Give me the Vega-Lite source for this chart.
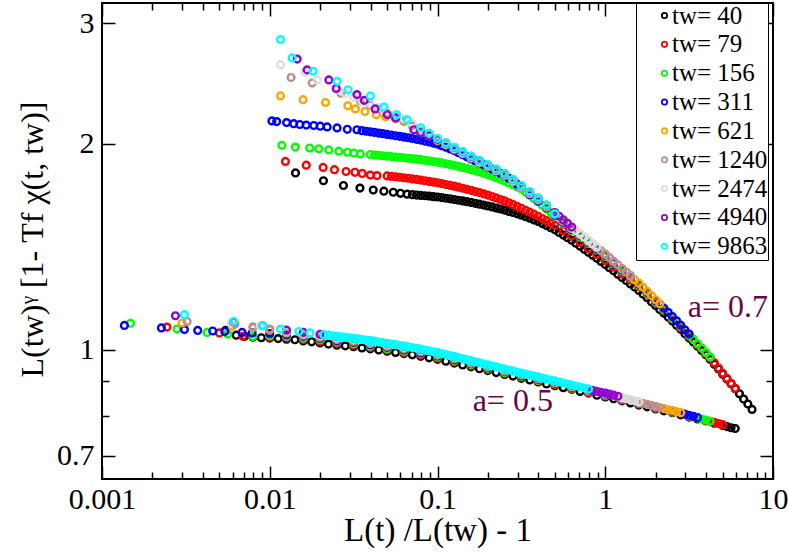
{
"$schema":"https://vega.github.io/schema/vega-lite/v6.json",
"width":671,"height":476,
"autosize":{"type":"none"},
"padding":{"left":102,"top":3,"right":16,"bottom":76},
"background":"white",
"config":{
"view":{"stroke":"black","strokeWidth":2},
"axis":{"domain":false,"grid":false,"tickColor":"black","tickWidth":1.5,"labelFont":"Liberation Serif","labelFontSize":30,"labelColor":"black","titleFont":"Liberation Serif","titleFontSize":33,"titleFontWeight":"normal","titleColor":"black","labelFlush":false,"labelOverlap":false,"labelBound":false}
},
"datasets":{
"notes":[{"x":3.1,"y":1.117,"label":"a= 0.7"},{"x":0.162,"y":0.8125,"label":"a= 0.5"}],
"pts":[
{"t":40,"x":0.00545,"y":1.067},{"t":40,"x":0.00631,"y":1.05},{"t":40,"x":0.007079,"y":1.046},{"t":40,"x":0.007943,"y":1.043},{"t":40,"x":0.008913,"y":1.041},{"t":40,"x":0.01,"y":1.04},{"t":40,"x":0.01122,"y":1.038},{"t":40,"x":0.01259,"y":1.036},{"t":40,"x":0.01413,"y":1.034},{"t":40,"x":0.01585,"y":1.03},{"t":40,"x":0.01778,"y":1.027},{"t":40,"x":0.01995,"y":1.023},{"t":40,"x":0.02239,"y":1.019},{"t":40,"x":0.02512,"y":1.015},{"t":40,"x":0.02818,"y":1.013},{"t":40,"x":0.03162,"y":1.01},{"t":40,"x":0.03548,"y":1.006},{"t":40,"x":0.03981,"y":1.003},{"t":40,"x":0.04467,"y":0.999},{"t":40,"x":0.05012,"y":0.995},{"t":40,"x":0.05623,"y":0.991},{"t":40,"x":0.0631,"y":0.987},{"t":40,"x":0.07079,"y":0.983},{"t":40,"x":0.07943,"y":0.978},{"t":40,"x":0.08913,"y":0.973},{"t":40,"x":0.1,"y":0.968},{"t":40,"x":0.1122,"y":0.962},{"t":40,"x":0.1259,"y":0.956},{"t":40,"x":0.1413,"y":0.95},{"t":40,"x":0.1585,"y":0.944},{"t":40,"x":0.1778,"y":0.938},{"t":40,"x":0.1995,"y":0.932},{"t":40,"x":0.2239,"y":0.926},{"t":40,"x":0.2512,"y":0.92},{"t":40,"x":0.2818,"y":0.915},{"t":40,"x":0.3162,"y":0.908},{"t":40,"x":0.3548,"y":0.903},{"t":40,"x":0.3981,"y":0.897},{"t":40,"x":0.4467,"y":0.891},{"t":40,"x":0.5012,"y":0.886},{"t":40,"x":0.5623,"y":0.88},{"t":40,"x":0.631,"y":0.875},{"t":40,"x":0.7079,"y":0.869},{"t":40,"x":0.7943,"y":0.864},{"t":40,"x":0.8913,"y":0.858},{"t":40,"x":1,"y":0.853},{"t":40,"x":1.122,"y":0.848},{"t":40,"x":1.259,"y":0.842},{"t":40,"x":1.413,"y":0.836},{"t":40,"x":1.585,"y":0.83},{"t":40,"x":1.778,"y":0.825},{"t":40,"x":1.995,"y":0.819},{"t":40,"x":2.239,"y":0.814},{"t":40,"x":2.512,"y":0.809},{"t":40,"x":2.818,"y":0.803},{"t":40,"x":3.162,"y":0.797},{"t":40,"x":3.548,"y":0.792},{"t":40,"x":3.981,"y":0.787},{"t":40,"x":4.467,"y":0.781},{"t":40,"x":5.012,"y":0.775},{"t":40,"x":5.309,"y":0.772},{"t":40,"x":5.623,"y":0.769},{"t":40,"x":5.957,"y":0.767},
{"t":40,"x":0.01424,"y":1.813},{"t":40,"x":0.0209,"y":1.766},{"t":40,"x":0.0275,"y":1.738},{"t":40,"x":0.0345,"y":1.723},{"t":40,"x":0.0414,"y":1.712},{"t":40,"x":0.0479,"y":1.705},{"t":40,"x":0.0545,"y":1.699},{"t":40,"x":0.0602,"y":1.693},{"t":40,"x":0.066,"y":1.688},
{"t":40,"x":0.07079,"y":1.685},{"t":40,"x":0.07499,"y":1.683},{"t":40,"x":0.07943,"y":1.681},{"t":40,"x":0.08414,"y":1.679},{"t":40,"x":0.08913,"y":1.677},{"t":40,"x":0.09441,"y":1.674},{"t":40,"x":0.1,"y":1.672},{"t":40,"x":0.1059,"y":1.669},{"t":40,"x":0.1122,"y":1.665},{"t":40,"x":0.1189,"y":1.662},{"t":40,"x":0.1259,"y":1.658},{"t":40,"x":0.1334,"y":1.654},{"t":40,"x":0.1413,"y":1.65},{"t":40,"x":0.1496,"y":1.646},{"t":40,"x":0.1585,"y":1.642},{"t":40,"x":0.1679,"y":1.637},{"t":40,"x":0.1778,"y":1.632},{"t":40,"x":0.1884,"y":1.627},{"t":40,"x":0.1995,"y":1.622},{"t":40,"x":0.2113,"y":1.617},{"t":40,"x":0.2239,"y":1.611},{"t":40,"x":0.2371,"y":1.606},{"t":40,"x":0.2512,"y":1.6},{"t":40,"x":0.2661,"y":1.593},{"t":40,"x":0.2818,"y":1.587},{"t":40,"x":0.2985,"y":1.58},{"t":40,"x":0.3162,"y":1.573},{"t":40,"x":0.335,"y":1.565},{"t":40,"x":0.3548,"y":1.557},{"t":40,"x":0.3758,"y":1.548},{"t":40,"x":0.3981,"y":1.54},{"t":40,"x":0.4217,"y":1.529},{"t":40,"x":0.4467,"y":1.519},{"t":40,"x":0.4732,"y":1.508},{"t":40,"x":0.5012,"y":1.497},{"t":40,"x":0.5309,"y":1.484},{"t":40,"x":0.5623,"y":1.471},{"t":40,"x":0.5957,"y":1.458},{"t":40,"x":0.631,"y":1.445},{"t":40,"x":0.6683,"y":1.431},{"t":40,"x":0.7079,"y":1.417},{"t":40,"x":0.7499,"y":1.402},{"t":40,"x":0.7943,"y":1.388},{"t":40,"x":0.8414,"y":1.374},{"t":40,"x":0.8913,"y":1.36},{"t":40,"x":0.9441,"y":1.346},{"t":40,"x":1,"y":1.332},{"t":40,"x":1.059,"y":1.318},{"t":40,"x":1.122,"y":1.304},{"t":40,"x":1.189,"y":1.289},{"t":40,"x":1.259,"y":1.275},{"t":40,"x":1.334,"y":1.262},{"t":40,"x":1.413,"y":1.248},{"t":40,"x":1.496,"y":1.235},{"t":40,"x":1.585,"y":1.221},{"t":40,"x":1.679,"y":1.206},{"t":40,"x":1.778,"y":1.191},{"t":40,"x":1.884,"y":1.175},{"t":40,"x":1.995,"y":1.16},{"t":40,"x":2.113,"y":1.145},{"t":40,"x":2.239,"y":1.131},{"t":40,"x":2.371,"y":1.116},{"t":40,"x":2.512,"y":1.101},{"t":40,"x":2.661,"y":1.086},{"t":40,"x":2.818,"y":1.071},{"t":40,"x":2.985,"y":1.055},{"t":40,"x":3.162,"y":1.04},{"t":40,"x":3.35,"y":1.026},{"t":40,"x":3.548,"y":1.012},{"t":40,"x":3.758,"y":0.997},{"t":40,"x":3.981,"y":0.983},{"t":40,"x":4.217,"y":0.968},{"t":40,"x":4.467,"y":0.952},{"t":40,"x":4.732,"y":0.937},{"t":40,"x":5.012,"y":0.921},{"t":40,"x":5.309,"y":0.906},{"t":40,"x":5.623,"y":0.892},{"t":40,"x":5.957,"y":0.877},{"t":40,"x":6.31,"y":0.862},{"t":40,"x":6.683,"y":0.847},{"t":40,"x":7.079,"y":0.833},{"t":40,"x":7.499,"y":0.818},
{"t":79,"x":0.00244,"y":1.079},{"t":79,"x":0.00501,"y":1.058},{"t":79,"x":0.0069,"y":1.046},{"t":79,"x":0.01,"y":1.044},{"t":79,"x":0.01259,"y":1.041},{"t":79,"x":0.01585,"y":1.035},{"t":79,"x":0.01995,"y":1.029},{"t":79,"x":0.02512,"y":1.021},{"t":79,"x":0.03162,"y":1.015},{"t":79,"x":0.03981,"y":1.008},{"t":79,"x":0.05012,"y":0.999},{"t":79,"x":0.0631,"y":0.991},{"t":79,"x":0.07943,"y":0.983},{"t":79,"x":0.1,"y":0.972},{"t":79,"x":0.1259,"y":0.96},{"t":79,"x":0.1585,"y":0.948},{"t":79,"x":0.1995,"y":0.936},{"t":79,"x":0.2512,"y":0.923},{"t":79,"x":0.3162,"y":0.912},{"t":79,"x":0.3981,"y":0.9},{"t":79,"x":0.5012,"y":0.889},{"t":79,"x":0.631,"y":0.877},{"t":79,"x":0.7943,"y":0.866},{"t":79,"x":1,"y":0.856},{"t":79,"x":1.259,"y":0.844},{"t":79,"x":1.585,"y":0.833},{"t":79,"x":1.995,"y":0.821},{"t":79,"x":2.512,"y":0.81},{"t":79,"x":3.162,"y":0.798},{"t":79,"x":3.981,"y":0.788},{"t":79,"x":4.217,"y":0.786},{"t":79,"x":4.467,"y":0.783},{"t":79,"x":4.732,"y":0.78},{"t":79,"x":5.012,"y":0.777},
{"t":79,"x":0.0124,"y":1.885},{"t":79,"x":0.0165,"y":1.861},{"t":79,"x":0.0208,"y":1.847},{"t":79,"x":0.0243,"y":1.833},{"t":79,"x":0.0285,"y":1.822},{"t":79,"x":0.0322,"y":1.817},{"t":79,"x":0.0356,"y":1.81},{"t":79,"x":0.0398,"y":1.8},{"t":79,"x":0.0436,"y":1.797},
{"t":79,"x":0.05012,"y":1.795},{"t":79,"x":0.05309,"y":1.792},{"t":79,"x":0.05623,"y":1.79},{"t":79,"x":0.05957,"y":1.787},{"t":79,"x":0.0631,"y":1.784},{"t":79,"x":0.06683,"y":1.781},{"t":79,"x":0.07079,"y":1.777},{"t":79,"x":0.07499,"y":1.774},{"t":79,"x":0.07943,"y":1.77},{"t":79,"x":0.08414,"y":1.766},{"t":79,"x":0.08913,"y":1.762},{"t":79,"x":0.09441,"y":1.758},{"t":79,"x":0.1,"y":1.754},{"t":79,"x":0.1059,"y":1.749},{"t":79,"x":0.1122,"y":1.744},{"t":79,"x":0.1189,"y":1.739},{"t":79,"x":0.1259,"y":1.734},{"t":79,"x":0.1334,"y":1.728},{"t":79,"x":0.1413,"y":1.722},{"t":79,"x":0.1496,"y":1.716},{"t":79,"x":0.1585,"y":1.71},{"t":79,"x":0.1679,"y":1.703},{"t":79,"x":0.1778,"y":1.697},{"t":79,"x":0.1884,"y":1.69},{"t":79,"x":0.1995,"y":1.683},{"t":79,"x":0.2113,"y":1.675},{"t":79,"x":0.2239,"y":1.667},{"t":79,"x":0.2371,"y":1.658},{"t":79,"x":0.2512,"y":1.65},{"t":79,"x":0.2661,"y":1.64},{"t":79,"x":0.2818,"y":1.63},{"t":79,"x":0.2985,"y":1.62},{"t":79,"x":0.3162,"y":1.61},{"t":79,"x":0.335,"y":1.599},{"t":79,"x":0.3548,"y":1.589},{"t":79,"x":0.3758,"y":1.578},{"t":79,"x":0.3981,"y":1.567},{"t":79,"x":0.4217,"y":1.555},{"t":79,"x":0.4467,"y":1.544},{"t":79,"x":0.4732,"y":1.532},{"t":79,"x":0.5012,"y":1.52},{"t":79,"x":0.5623,"y":1.493},{"t":79,"x":0.631,"y":1.465},{"t":79,"x":0.7079,"y":1.435},{"t":79,"x":0.7943,"y":1.405},{"t":79,"x":0.8913,"y":1.378},{"t":79,"x":1,"y":1.35},{"t":79,"x":1.122,"y":1.32},{"t":79,"x":1.259,"y":1.291},{"t":79,"x":1.413,"y":1.264},{"t":79,"x":1.585,"y":1.236},{"t":79,"x":1.778,"y":1.205},{"t":79,"x":1.995,"y":1.171},{"t":79,"x":2.239,"y":1.14},{"t":79,"x":2.512,"y":1.108},{"t":79,"x":2.818,"y":1.076},{"t":79,"x":3.162,"y":1.045},{"t":79,"x":3.548,"y":1.016},{"t":79,"x":3.981,"y":0.986},{"t":79,"x":4.217,"y":0.973},{"t":79,"x":4.467,"y":0.957},{"t":79,"x":4.732,"y":0.94},{"t":79,"x":5.012,"y":0.924},{"t":79,"x":5.309,"y":0.908},{"t":79,"x":5.623,"y":0.893},{"t":79,"x":5.957,"y":0.878},
{"t":156,"x":0.00148,"y":1.093},{"t":156,"x":0.0028,"y":1.072},{"t":156,"x":0.00423,"y":1.06},{"t":156,"x":0.00561,"y":1.054},{"t":156,"x":0.007943,"y":1.045},{"t":156,"x":0.01,"y":1.048},{"t":156,"x":0.01259,"y":1.046},{"t":156,"x":0.01585,"y":1.04},{"t":156,"x":0.01995,"y":1.034},{"t":156,"x":0.02512,"y":1.027},{"t":156,"x":0.03162,"y":1.02},{"t":156,"x":0.03981,"y":1.012},{"t":156,"x":0.05012,"y":1.003},{"t":156,"x":0.0631,"y":0.995},{"t":156,"x":0.07943,"y":0.987},{"t":156,"x":0.1,"y":0.976},{"t":156,"x":0.1259,"y":0.964},{"t":156,"x":0.1585,"y":0.951},{"t":156,"x":0.1995,"y":0.939},{"t":156,"x":0.2512,"y":0.926},{"t":156,"x":0.3162,"y":0.914},{"t":156,"x":0.3981,"y":0.902},{"t":156,"x":0.5012,"y":0.891},{"t":156,"x":0.631,"y":0.879},{"t":156,"x":0.7943,"y":0.868},{"t":156,"x":1,"y":0.857},{"t":156,"x":1.259,"y":0.846},{"t":156,"x":1.585,"y":0.834},{"t":156,"x":1.995,"y":0.823},{"t":156,"x":2.512,"y":0.811},{"t":156,"x":3.162,"y":0.8},{"t":156,"x":3.548,"y":0.795},{"t":156,"x":3.758,"y":0.792},{"t":156,"x":3.981,"y":0.789},{"t":156,"x":4.217,"y":0.786},
{"t":156,"x":0.0118,"y":1.99},{"t":156,"x":0.0142,"y":1.978},{"t":156,"x":0.0173,"y":1.972},{"t":156,"x":0.0196,"y":1.967},{"t":156,"x":0.0225,"y":1.959},{"t":156,"x":0.0258,"y":1.951},{"t":156,"x":0.029,"y":1.944},{"t":156,"x":0.0317,"y":1.939},{"t":156,"x":0.0347,"y":1.933},
{"t":156,"x":0.03981,"y":1.929},{"t":156,"x":0.04217,"y":1.926},{"t":156,"x":0.04467,"y":1.924},{"t":156,"x":0.04732,"y":1.921},{"t":156,"x":0.05012,"y":1.918},{"t":156,"x":0.05309,"y":1.916},{"t":156,"x":0.05623,"y":1.913},{"t":156,"x":0.05957,"y":1.911},{"t":156,"x":0.0631,"y":1.908},{"t":156,"x":0.06683,"y":1.905},{"t":156,"x":0.07079,"y":1.902},{"t":156,"x":0.07499,"y":1.899},{"t":156,"x":0.07943,"y":1.896},{"t":156,"x":0.08414,"y":1.892},{"t":156,"x":0.08913,"y":1.888},{"t":156,"x":0.09441,"y":1.884},{"t":156,"x":0.1,"y":1.88},{"t":156,"x":0.1059,"y":1.875},{"t":156,"x":0.1122,"y":1.87},{"t":156,"x":0.1189,"y":1.865},{"t":156,"x":0.1259,"y":1.86},{"t":156,"x":0.1334,"y":1.854},{"t":156,"x":0.1413,"y":1.847},{"t":156,"x":0.1496,"y":1.841},{"t":156,"x":0.1585,"y":1.834},{"t":156,"x":0.1679,"y":1.826},{"t":156,"x":0.1778,"y":1.819},{"t":156,"x":0.1884,"y":1.811},{"t":156,"x":0.1995,"y":1.803},{"t":156,"x":0.2113,"y":1.794},{"t":156,"x":0.2239,"y":1.784},{"t":156,"x":0.2371,"y":1.775},{"t":156,"x":0.2512,"y":1.765},{"t":156,"x":0.2661,"y":1.753},{"t":156,"x":0.2818,"y":1.742},{"t":156,"x":0.2985,"y":1.73},{"t":156,"x":0.3162,"y":1.718},{"t":156,"x":0.335,"y":1.7},{"t":156,"x":0.3548,"y":1.682},{"t":156,"x":0.3758,"y":1.663},{"t":156,"x":0.3981,"y":1.645},{"t":156,"x":0.4217,"y":1.626},{"t":156,"x":0.4467,"y":1.606},{"t":156,"x":0.4732,"y":1.587},{"t":156,"x":0.5012,"y":1.568},{"t":156,"x":0.5623,"y":1.53},{"t":156,"x":0.631,"y":1.494},{"t":156,"x":0.7079,"y":1.461},{"t":156,"x":0.7943,"y":1.43},{"t":156,"x":0.8913,"y":1.399},{"t":156,"x":1,"y":1.368},{"t":156,"x":1.122,"y":1.336},{"t":156,"x":1.259,"y":1.303},{"t":156,"x":1.413,"y":1.273},{"t":156,"x":1.585,"y":1.242},{"t":156,"x":1.778,"y":1.209},{"t":156,"x":1.995,"y":1.175},{"t":156,"x":2.239,"y":1.144},{"t":156,"x":2.512,"y":1.112},{"t":156,"x":2.818,"y":1.082},{"t":156,"x":3.162,"y":1.05},{"t":156,"x":3.35,"y":1.036},{"t":156,"x":3.548,"y":1.021},{"t":156,"x":3.758,"y":1.006},{"t":156,"x":3.981,"y":0.991},{"t":156,"x":4.217,"y":0.976},
{"t":311,"x":0.00136,"y":1.085},{"t":311,"x":0.00226,"y":1.076},{"t":311,"x":0.0031,"y":1.07},{"t":311,"x":0.00372,"y":1.067},{"t":311,"x":0.00457,"y":1.065},{"t":311,"x":0.0054,"y":1.063},{"t":311,"x":0.00684,"y":1.06},{"t":311,"x":0.00785,"y":1.058},{"t":311,"x":0.01,"y":1.056},{"t":311,"x":0.01259,"y":1.052},{"t":311,"x":0.01585,"y":1.046},{"t":311,"x":0.01995,"y":1.039},{"t":311,"x":0.02512,"y":1.031},{"t":311,"x":0.03162,"y":1.025},{"t":311,"x":0.03981,"y":1.017},{"t":311,"x":0.05012,"y":1.008},{"t":311,"x":0.0631,"y":0.999},{"t":311,"x":0.07943,"y":0.99},{"t":311,"x":0.1,"y":0.979},{"t":311,"x":0.1259,"y":0.967},{"t":311,"x":0.1585,"y":0.954},{"t":311,"x":0.1995,"y":0.941},{"t":311,"x":0.2512,"y":0.929},{"t":311,"x":0.3162,"y":0.916},{"t":311,"x":0.3981,"y":0.905},{"t":311,"x":0.5012,"y":0.893},{"t":311,"x":0.631,"y":0.881},{"t":311,"x":0.7943,"y":0.87},{"t":311,"x":1,"y":0.859},{"t":311,"x":1.259,"y":0.847},{"t":311,"x":1.585,"y":0.836},{"t":311,"x":1.995,"y":0.824},{"t":311,"x":2.512,"y":0.813},{"t":311,"x":2.818,"y":0.807},{"t":311,"x":2.985,"y":0.805},{"t":311,"x":3.162,"y":0.802},{"t":311,"x":3.35,"y":0.799},{"t":311,"x":3.548,"y":0.796},
{"t":311,"x":0.0103,"y":2.16},{"t":311,"x":0.011,"y":2.155},{"t":311,"x":0.0126,"y":2.148},{"t":311,"x":0.0139,"y":2.14},{"t":311,"x":0.0151,"y":2.134},{"t":311,"x":0.0165,"y":2.13},{"t":311,"x":0.0183,"y":2.127},{"t":311,"x":0.02,"y":2.122},{"t":311,"x":0.022,"y":2.117},{"t":311,"x":0.0252,"y":2.11},{"t":311,"x":0.029,"y":2.1},{"t":311,"x":0.0331,"y":2.097},
{"t":311,"x":0.03548,"y":2.09},{"t":311,"x":0.03758,"y":2.086},{"t":311,"x":0.03981,"y":2.082},{"t":311,"x":0.04217,"y":2.078},{"t":311,"x":0.04467,"y":2.073},{"t":311,"x":0.04732,"y":2.069},{"t":311,"x":0.05012,"y":2.064},{"t":311,"x":0.05309,"y":2.06},{"t":311,"x":0.05623,"y":2.055},{"t":311,"x":0.05957,"y":2.051},{"t":311,"x":0.0631,"y":2.046},{"t":311,"x":0.06683,"y":2.041},{"t":311,"x":0.07079,"y":2.036},{"t":311,"x":0.07499,"y":2.03},{"t":311,"x":0.07943,"y":2.025},{"t":311,"x":0.08414,"y":2.018},{"t":311,"x":0.08913,"y":2.012},{"t":311,"x":0.09441,"y":2.005},{"t":311,"x":0.1,"y":1.998},{"t":311,"x":0.1059,"y":1.987},{"t":311,"x":0.1122,"y":1.977},{"t":311,"x":0.1189,"y":1.966},{"t":311,"x":0.1259,"y":1.955},{"t":311,"x":0.1334,"y":1.941},{"t":311,"x":0.1413,"y":1.928},{"t":311,"x":0.1496,"y":1.914},{"t":311,"x":0.1585,"y":1.9},{"t":311,"x":0.1679,"y":1.888},{"t":311,"x":0.1778,"y":1.875},{"t":311,"x":0.1884,"y":1.863},{"t":311,"x":0.1995,"y":1.85},{"t":311,"x":0.2113,"y":1.837},{"t":311,"x":0.2239,"y":1.824},{"t":311,"x":0.2371,"y":1.811},{"t":311,"x":0.2512,"y":1.798},{"t":311,"x":0.2661,"y":1.781},{"t":311,"x":0.2818,"y":1.763},{"t":311,"x":0.2985,"y":1.746},{"t":311,"x":0.3162,"y":1.728},{"t":311,"x":0.3548,"y":1.685},{"t":311,"x":0.3981,"y":1.65},{"t":311,"x":0.4467,"y":1.612},{"t":311,"x":0.5012,"y":1.573},{"t":311,"x":0.5623,"y":1.536},{"t":311,"x":0.631,"y":1.499},{"t":311,"x":0.7079,"y":1.467},{"t":311,"x":0.7943,"y":1.435},{"t":311,"x":0.8913,"y":1.404},{"t":311,"x":1,"y":1.373},{"t":311,"x":1.122,"y":1.34},{"t":311,"x":1.259,"y":1.308},{"t":311,"x":1.413,"y":1.277},{"t":311,"x":1.585,"y":1.246},{"t":311,"x":1.778,"y":1.213},{"t":311,"x":1.995,"y":1.179},{"t":311,"x":2.113,"y":1.166},{"t":311,"x":2.239,"y":1.15},{"t":311,"x":2.371,"y":1.134},{"t":311,"x":2.512,"y":1.118},{"t":311,"x":2.661,"y":1.102},{"t":311,"x":2.818,"y":1.086},{"t":311,"x":2.985,"y":1.069},{"t":311,"x":3.162,"y":1.054},
{"t":621,"x":0.003,"y":1.094},{"t":621,"x":0.00597,"y":1.082},{"t":621,"x":0.007943,"y":1.077},{"t":621,"x":0.01,"y":1.069},{"t":621,"x":0.01259,"y":1.058},{"t":621,"x":0.01585,"y":1.05},{"t":621,"x":0.01995,"y":1.043},{"t":621,"x":0.02512,"y":1.035},{"t":621,"x":0.03162,"y":1.029},{"t":621,"x":0.03981,"y":1.021},{"t":621,"x":0.05012,"y":1.012},{"t":621,"x":0.0631,"y":1.003},{"t":621,"x":0.07943,"y":0.994},{"t":621,"x":0.1,"y":0.982},{"t":621,"x":0.1259,"y":0.97},{"t":621,"x":0.1585,"y":0.956},{"t":621,"x":0.1995,"y":0.944},{"t":621,"x":0.2512,"y":0.931},{"t":621,"x":0.3162,"y":0.919},{"t":621,"x":0.3981,"y":0.907},{"t":621,"x":0.5012,"y":0.895},{"t":621,"x":0.631,"y":0.883},{"t":621,"x":0.7943,"y":0.872},{"t":621,"x":1,"y":0.861},{"t":621,"x":1.259,"y":0.849},{"t":621,"x":1.585,"y":0.837},{"t":621,"x":1.995,"y":0.825},{"t":621,"x":2.239,"y":0.82},{"t":621,"x":2.371,"y":0.817},{"t":621,"x":2.512,"y":0.815},{"t":621,"x":2.661,"y":0.812},{"t":621,"x":2.818,"y":0.809},
{"t":621,"x":0.0116,"y":2.35},{"t":621,"x":0.0158,"y":2.32},{"t":621,"x":0.0215,"y":2.298},{"t":621,"x":0.0292,"y":2.274},{"t":621,"x":0.0324,"y":2.249},{"t":621,"x":0.037,"y":2.23},{"t":621,"x":0.0432,"y":2.206},{"t":621,"x":0.049,"y":2.19},{"t":621,"x":0.0563,"y":2.175},
{"t":621,"x":0.0631,"y":2.155},{"t":621,"x":0.07079,"y":2.125},{"t":621,"x":0.07943,"y":2.09},{"t":621,"x":0.08913,"y":2.055},{"t":621,"x":0.1,"y":2.022},{"t":621,"x":0.1122,"y":1.994},{"t":621,"x":0.1259,"y":1.964},{"t":621,"x":0.1413,"y":1.935},{"t":621,"x":0.1585,"y":1.906},{"t":621,"x":0.1778,"y":1.878},{"t":621,"x":0.1995,"y":1.852},{"t":621,"x":0.2239,"y":1.825},{"t":621,"x":0.2512,"y":1.799},{"t":621,"x":0.2818,"y":1.762},{"t":621,"x":0.3162,"y":1.726},{"t":621,"x":0.3548,"y":1.691},{"t":621,"x":0.3981,"y":1.656},{"t":621,"x":0.4467,"y":1.617},{"t":621,"x":0.5012,"y":1.578},{"t":621,"x":0.5623,"y":1.541},{"t":621,"x":0.631,"y":1.504},{"t":621,"x":0.7079,"y":1.472},{"t":621,"x":0.7943,"y":1.439},{"t":621,"x":0.8913,"y":1.409},{"t":621,"x":1,"y":1.378},{"t":621,"x":1.122,"y":1.345},{"t":621,"x":1.259,"y":1.312},{"t":621,"x":1.413,"y":1.281},{"t":621,"x":1.496,"y":1.266},{"t":621,"x":1.585,"y":1.251},{"t":621,"x":1.679,"y":1.234},{"t":621,"x":1.778,"y":1.217},{"t":621,"x":1.884,"y":1.2},{"t":621,"x":1.995,"y":1.183},{"t":621,"x":2.113,"y":1.167},
{"t":1240,"x":0.00322,"y":1.1},{"t":1240,"x":0.0062,"y":1.09},{"t":1240,"x":0.007943,"y":1.08},{"t":1240,"x":0.01,"y":1.072},{"t":1240,"x":0.01259,"y":1.061},{"t":1240,"x":0.01585,"y":1.053},{"t":1240,"x":0.01995,"y":1.046},{"t":1240,"x":0.02512,"y":1.038},{"t":1240,"x":0.03162,"y":1.032},{"t":1240,"x":0.03981,"y":1.024},{"t":1240,"x":0.05012,"y":1.015},{"t":1240,"x":0.0631,"y":1.006},{"t":1240,"x":0.07943,"y":0.996},{"t":1240,"x":0.1,"y":0.985},{"t":1240,"x":0.1259,"y":0.972},{"t":1240,"x":0.1585,"y":0.958},{"t":1240,"x":0.1995,"y":0.945},{"t":1240,"x":0.2512,"y":0.933},{"t":1240,"x":0.3162,"y":0.92},{"t":1240,"x":0.3981,"y":0.908},{"t":1240,"x":0.5012,"y":0.896},{"t":1240,"x":0.631,"y":0.885},{"t":1240,"x":0.7943,"y":0.873},{"t":1240,"x":1,"y":0.862},{"t":1240,"x":1.259,"y":0.85},{"t":1240,"x":1.413,"y":0.844},{"t":1240,"x":1.585,"y":0.838},{"t":1240,"x":1.679,"y":0.835},{"t":1240,"x":1.778,"y":0.832},{"t":1240,"x":1.884,"y":0.829},{"t":1240,"x":1.995,"y":0.826},{"t":1240,"x":2.113,"y":0.823},
{"t":1240,"x":0.0134,"y":2.5},{"t":1240,"x":0.0179,"y":2.455},{"t":1240,"x":0.0265,"y":2.37},{"t":1240,"x":0.0347,"y":2.31},
{"t":1240,"x":0.03981,"y":2.28},{"t":1240,"x":0.04467,"y":2.25},{"t":1240,"x":0.05012,"y":2.22},{"t":1240,"x":0.05623,"y":2.19},{"t":1240,"x":0.0631,"y":2.16},{"t":1240,"x":0.07079,"y":2.125},{"t":1240,"x":0.07943,"y":2.09},{"t":1240,"x":0.08913,"y":2.058},{"t":1240,"x":0.1,"y":2.025},{"t":1240,"x":0.1122,"y":1.997},{"t":1240,"x":0.1259,"y":1.967},{"t":1240,"x":0.1413,"y":1.938},{"t":1240,"x":0.1585,"y":1.909},{"t":1240,"x":0.1778,"y":1.882},{"t":1240,"x":0.1995,"y":1.855},{"t":1240,"x":0.2239,"y":1.828},{"t":1240,"x":0.2512,"y":1.802},{"t":1240,"x":0.2818,"y":1.765},{"t":1240,"x":0.3162,"y":1.729},{"t":1240,"x":0.3548,"y":1.694},{"t":1240,"x":0.3981,"y":1.659},{"t":1240,"x":0.4467,"y":1.62},{"t":1240,"x":0.5012,"y":1.581},{"t":1240,"x":0.5623,"y":1.543},{"t":1240,"x":0.631,"y":1.506},{"t":1240,"x":0.7079,"y":1.474},{"t":1240,"x":0.7943,"y":1.442},{"t":1240,"x":0.8414,"y":1.426},{"t":1240,"x":0.8913,"y":1.411},{"t":1240,"x":0.9441,"y":1.395},{"t":1240,"x":1,"y":1.38},{"t":1240,"x":1.059,"y":1.364},{"t":1240,"x":1.122,"y":1.347},{"t":1240,"x":1.189,"y":1.331},{"t":1240,"x":1.259,"y":1.314},{"t":1240,"x":1.334,"y":1.299},{"t":1240,"x":1.413,"y":1.284},
{"t":2474,"x":0.0059,"y":1.094},{"t":2474,"x":0.0088,"y":1.083},{"t":2474,"x":0.01259,"y":1.064},{"t":2474,"x":0.01585,"y":1.056},{"t":2474,"x":0.01995,"y":1.049},{"t":2474,"x":0.02512,"y":1.041},{"t":2474,"x":0.03162,"y":1.035},{"t":2474,"x":0.03981,"y":1.027},{"t":2474,"x":0.05012,"y":1.017},{"t":2474,"x":0.0631,"y":1.008},{"t":2474,"x":0.07943,"y":0.998},{"t":2474,"x":0.1,"y":0.987},{"t":2474,"x":0.1259,"y":0.974},{"t":2474,"x":0.1585,"y":0.96},{"t":2474,"x":0.1995,"y":0.947},{"t":2474,"x":0.2512,"y":0.934},{"t":2474,"x":0.3162,"y":0.922},{"t":2474,"x":0.3981,"y":0.91},{"t":2474,"x":0.5012,"y":0.898},{"t":2474,"x":0.631,"y":0.886},{"t":2474,"x":0.7943,"y":0.874},{"t":2474,"x":1,"y":0.863},{"t":2474,"x":1.122,"y":0.857},{"t":2474,"x":1.189,"y":0.854},{"t":2474,"x":1.259,"y":0.851},{"t":2474,"x":1.334,"y":0.848},{"t":2474,"x":1.413,"y":0.845},{"t":2474,"x":1.496,"y":0.842},{"t":2474,"x":1.585,"y":0.839},
{"t":2474,"x":0.0116,"y":2.61},{"t":2474,"x":0.0162,"y":2.545},{"t":2474,"x":0.0192,"y":2.48},{"t":2474,"x":0.0252,"y":2.4},
{"t":2474,"x":0.02818,"y":2.37},{"t":2474,"x":0.03162,"y":2.34},{"t":2474,"x":0.03548,"y":2.31},{"t":2474,"x":0.03981,"y":2.29},{"t":2474,"x":0.04467,"y":2.26},{"t":2474,"x":0.05012,"y":2.235},{"t":2474,"x":0.05623,"y":2.205},{"t":2474,"x":0.0631,"y":2.175},{"t":2474,"x":0.07079,"y":2.14},{"t":2474,"x":0.07943,"y":2.1},{"t":2474,"x":0.08913,"y":2.066},{"t":2474,"x":0.1,"y":2.03},{"t":2474,"x":0.1122,"y":2.0},{"t":2474,"x":0.1259,"y":1.97},{"t":2474,"x":0.1413,"y":1.941},{"t":2474,"x":0.1585,"y":1.913},{"t":2474,"x":0.1778,"y":1.885},{"t":2474,"x":0.1995,"y":1.858},{"t":2474,"x":0.2239,"y":1.831},{"t":2474,"x":0.2512,"y":1.805},{"t":2474,"x":0.2818,"y":1.768},{"t":2474,"x":0.3162,"y":1.732},{"t":2474,"x":0.3548,"y":1.696},{"t":2474,"x":0.3981,"y":1.661},{"t":2474,"x":0.4467,"y":1.623},{"t":2474,"x":0.5012,"y":1.584},{"t":2474,"x":0.5623,"y":1.546},{"t":2474,"x":0.631,"y":1.509},{"t":2474,"x":0.6683,"y":1.493},{"t":2474,"x":0.7079,"y":1.477},{"t":2474,"x":0.7499,"y":1.46},{"t":2474,"x":0.7943,"y":1.444},{"t":2474,"x":0.8414,"y":1.428},{"t":2474,"x":0.8913,"y":1.413},
{"t":4940,"x":0.00274,"y":1.121},{"t":4940,"x":0.0061,"y":1.098},{"t":4940,"x":0.0091,"y":1.084},{"t":4940,"x":0.01259,"y":1.068},{"t":4940,"x":0.01585,"y":1.06},{"t":4940,"x":0.01995,"y":1.053},{"t":4940,"x":0.02512,"y":1.045},{"t":4940,"x":0.03162,"y":1.038},{"t":4940,"x":0.03981,"y":1.03},{"t":4940,"x":0.05012,"y":1.02},{"t":4940,"x":0.0631,"y":1.011},{"t":4940,"x":0.07943,"y":1.001},{"t":4940,"x":0.1,"y":0.989},{"t":4940,"x":0.1259,"y":0.976},{"t":4940,"x":0.1585,"y":0.962},{"t":4940,"x":0.1995,"y":0.949},{"t":4940,"x":0.2512,"y":0.936},{"t":4940,"x":0.3162,"y":0.923},{"t":4940,"x":0.3981,"y":0.911},{"t":4940,"x":0.5012,"y":0.899},{"t":4940,"x":0.631,"y":0.887},{"t":4940,"x":0.7943,"y":0.875},{"t":4940,"x":0.8414,"y":0.872},{"t":4940,"x":0.8913,"y":0.869},{"t":4940,"x":0.9441,"y":0.866},{"t":4940,"x":1,"y":0.864},{"t":4940,"x":1.059,"y":0.861},{"t":4940,"x":1.122,"y":0.858},{"t":4940,"x":1.189,"y":0.855},
{"t":4940,"x":0.01457,"y":2.66},{"t":4940,"x":0.0167,"y":2.565},{"t":4940,"x":0.0225,"y":2.48},{"t":4940,"x":0.0249,"y":2.41},{"t":4940,"x":0.0331,"y":2.36},{"t":4940,"x":0.0366,"y":2.315},{"t":4940,"x":0.0425,"y":2.249},{"t":4940,"x":0.0502,"y":2.206},{"t":4940,"x":0.0563,"y":2.181},{"t":4940,"x":0.0723,"y":2.097},
{"t":4940,"x":0.07943,"y":2.075},{"t":4940,"x":0.08913,"y":2.055},{"t":4940,"x":0.1,"y":2.03},{"t":4940,"x":0.1122,"y":2.005},{"t":4940,"x":0.1259,"y":1.975},{"t":4940,"x":0.1413,"y":1.946},{"t":4940,"x":0.1585,"y":1.917},{"t":4940,"x":0.1778,"y":1.889},{"t":4940,"x":0.1995,"y":1.862},{"t":4940,"x":0.2239,"y":1.835},{"t":4940,"x":0.2512,"y":1.809},{"t":4940,"x":0.2818,"y":1.772},{"t":4940,"x":0.3162,"y":1.736},{"t":4940,"x":0.3548,"y":1.7},{"t":4940,"x":0.3981,"y":1.665},{"t":4940,"x":0.4467,"y":1.626},{"t":4940,"x":0.5012,"y":1.587},{"t":4940,"x":0.5309,"y":1.567},{"t":4940,"x":0.5623,"y":1.548},{"t":4940,"x":0.5957,"y":1.53},{"t":4940,"x":0.631,"y":1.511},
{"t":9863,"x":0.0031,"y":1.125},{"t":9863,"x":0.0061,"y":1.1},{"t":9863,"x":0.0091,"y":1.084},{"t":9863,"x":0.0116,"y":1.072},{"t":9863,"x":0.0149,"y":1.063},{"t":9863,"x":0.0174,"y":1.058},{"t":9863,"x":0.021,"y":1.052},
{"t":9863,"x":0.02239,"y":1.05},{"t":9863,"x":0.02371,"y":1.048},{"t":9863,"x":0.02512,"y":1.046},{"t":9863,"x":0.02661,"y":1.044},{"t":9863,"x":0.02818,"y":1.043},{"t":9863,"x":0.02985,"y":1.041},{"t":9863,"x":0.03162,"y":1.039},{"t":9863,"x":0.0335,"y":1.037},{"t":9863,"x":0.03548,"y":1.035},{"t":9863,"x":0.03758,"y":1.033},{"t":9863,"x":0.03981,"y":1.031},{"t":9863,"x":0.04217,"y":1.029},{"t":9863,"x":0.04467,"y":1.026},{"t":9863,"x":0.04732,"y":1.024},{"t":9863,"x":0.05012,"y":1.021},{"t":9863,"x":0.05309,"y":1.019},{"t":9863,"x":0.05623,"y":1.017},{"t":9863,"x":0.05957,"y":1.014},{"t":9863,"x":0.0631,"y":1.012},{"t":9863,"x":0.06683,"y":1.01},{"t":9863,"x":0.07079,"y":1.007},{"t":9863,"x":0.07499,"y":1.005},{"t":9863,"x":0.07943,"y":1.002},{"t":9863,"x":0.08414,"y":0.999},{"t":9863,"x":0.08913,"y":0.996},{"t":9863,"x":0.09441,"y":0.993},{"t":9863,"x":0.1,"y":0.99},{"t":9863,"x":0.1059,"y":0.987},{"t":9863,"x":0.1122,"y":0.984},{"t":9863,"x":0.1189,"y":0.98},{"t":9863,"x":0.1259,"y":0.977},{"t":9863,"x":0.1334,"y":0.974},{"t":9863,"x":0.1413,"y":0.97},{"t":9863,"x":0.1496,"y":0.967},{"t":9863,"x":0.1585,"y":0.963},{"t":9863,"x":0.1679,"y":0.96},{"t":9863,"x":0.1778,"y":0.957},{"t":9863,"x":0.1884,"y":0.953},{"t":9863,"x":0.1995,"y":0.95},{"t":9863,"x":0.2113,"y":0.947},{"t":9863,"x":0.2239,"y":0.944},{"t":9863,"x":0.2371,"y":0.94},{"t":9863,"x":0.2512,"y":0.937},{"t":9863,"x":0.2661,"y":0.934},{"t":9863,"x":0.2818,"y":0.931},{"t":9863,"x":0.2985,"y":0.927},{"t":9863,"x":0.3162,"y":0.924},{"t":9863,"x":0.335,"y":0.921},{"t":9863,"x":0.3548,"y":0.918},{"t":9863,"x":0.3758,"y":0.915},{"t":9863,"x":0.3981,"y":0.912},{"t":9863,"x":0.4217,"y":0.909},{"t":9863,"x":0.4467,"y":0.906},{"t":9863,"x":0.4732,"y":0.903},{"t":9863,"x":0.5012,"y":0.9},{"t":9863,"x":0.5309,"y":0.897},{"t":9863,"x":0.5623,"y":0.894},{"t":9863,"x":0.5957,"y":0.891},{"t":9863,"x":0.631,"y":0.888},{"t":9863,"x":0.6683,"y":0.885},{"t":9863,"x":0.7079,"y":0.882},{"t":9863,"x":0.7499,"y":0.879},{"t":9863,"x":0.7943,"y":0.876},
{"t":9863,"x":0.0116,"y":2.84},{"t":9863,"x":0.01361,"y":2.67},{"t":9863,"x":0.01815,"y":2.553},{"t":9863,"x":0.0252,"y":2.468},{"t":9863,"x":0.0293,"y":2.399},{"t":9863,"x":0.0398,"y":2.35},{"t":9863,"x":0.0479,"y":2.264},{"t":9863,"x":0.0571,"y":2.206},{"t":9863,"x":0.066,"y":2.168},
{"t":9863,"x":0.07943,"y":2.111},{"t":9863,"x":0.08913,"y":2.074},{"t":9863,"x":0.1,"y":2.037},{"t":9863,"x":0.1122,"y":2.007},{"t":9863,"x":0.1259,"y":1.977},{"t":9863,"x":0.1413,"y":1.948},{"t":9863,"x":0.1585,"y":1.919},{"t":9863,"x":0.1778,"y":1.891},{"t":9863,"x":0.1995,"y":1.864},{"t":9863,"x":0.2239,"y":1.837},{"t":9863,"x":0.2512,"y":1.811},{"t":9863,"x":0.2818,"y":1.774},{"t":9863,"x":0.3162,"y":1.738},{"t":9863,"x":0.3548,"y":1.702},{"t":9863,"x":0.3981,"y":1.667},{"t":9863,"x":0.4467,"y":1.628},{"t":9863,"x":0.5012,"y":1.58}
]
},
"layer":[
{
"data":{"name":"pts"},
"mark":{"type":"point","shape":"circle","filled":false,"size":46,"strokeWidth":2.4,"opacity":1},
"encoding":{
"x":{"field":"x","type":"quantitative","scale":{"type":"log","domain":[0.001,10],"nice":false},
"axis":{"orient":"bottom","values":[0.001,0.002,0.003,0.004,0.005,0.006,0.007,0.008,0.009,0.01,0.02,0.03,0.04,0.05,0.06,0.07,0.08,0.09,0.1,0.2,0.3,0.4,0.5,0.6,0.7,0.8,0.9,1,2,3,4,5,6,7,8,9,10],
"labelExpr":"datum.value==0.001?'0.001':datum.value==0.01?'0.01':datum.value==0.1?'0.1':datum.value==1?'1':datum.value==10?'10':''",
"tickSize":{"condition":{"test":"datum.value==0.001||datum.value==0.01||datum.value==0.1||datum.value==1||datum.value==10","value":-13},"value":-7},
"labelPadding":18,"title":"L(t) /L(tw) - 1","titleBaseline":"alphabetic","titleY":61}},
"y":{"field":"y","type":"quantitative","scale":{"type":"log","domain":[0.6471,3.2126],"nice":false},
"axis":{"orient":"left","values":[0.7,0.8,0.9,1,2,3],
"labelExpr":"datum.value==0.7?'0.7':datum.value==1?'1':datum.value==2?'2':datum.value==3?'3':''",
"tickSize":{"condition":{"test":"datum.value==0.8||datum.value==0.9","value":-7},"value":-13},
"labelPadding":21,"title":"L(tw)ᵞ [1- Tf χ(t, tw)]","titleFontSize":32,"titleBaseline":"alphabetic","titleX":-60,"titleY":236}},
"color":{"field":"t","type":"nominal","sort":null,
"scale":{"domain":[40,79,156,311,621,1240,2474,4940,9863],"range":["#000000","#ff0000","#00ff00","#0000ff","#ffa500","#bc8f8f","#dcdcdc","#9400d3","#00ffff"]},
"legend":{"orient":"none","legendX":534,"legendY":0,"title":null,"labelExpr":"'tw= ' + datum.label","labelFont":"Liberation Serif","labelFontSize":25,"labelColor":"black","labelLimit":0,"symbolType":"circle","symbolSize":28,"symbolStrokeWidth":1.8,"padding":0,"rowPadding":2.85,"symbolOffset":16,"labelOffset":-5,"strokeColor":"black","fillColor":"white"}}
}
},
{
"data":{"name":"notes"},
"mark":{"type":"text","align":"left","baseline":"alphabetic","font":"Liberation Serif","fontSize":32,"color":"#670748"},
"encoding":{
"x":{"field":"x","type":"quantitative","axis":{"orient":"top","values":[0.001,0.002,0.003,0.004,0.005,0.006,0.007,0.008,0.009,0.01,0.02,0.03,0.04,0.05,0.06,0.07,0.08,0.09,0.1,0.2,0.3,0.4,0.5,0.6,0.7,0.8,0.9,1,2,3,4,5,6,7,8,9,10],"labels":false,"title":null,
"tickSize":{"condition":{"test":"datum.value==0.001||datum.value==0.01||datum.value==0.1||datum.value==1||datum.value==10","value":-13},"value":-7}}},
"y":{"field":"y","type":"quantitative","axis":{"orient":"right","values":[0.7,0.8,0.9,1,2,3],"labels":false,"title":null,
"tickSize":{"condition":{"test":"datum.value==0.8||datum.value==0.9","value":-7},"value":-13}}},
"text":{"field":"label"}
}
}
],
"resolve":{"axis":{"x":"independent","y":"independent"}}
}
